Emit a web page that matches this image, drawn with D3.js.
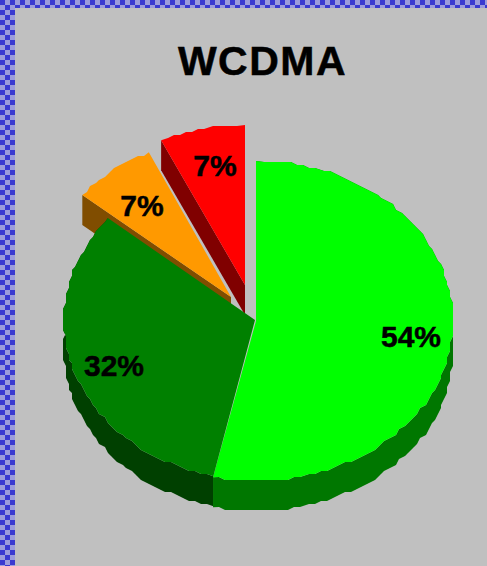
<!DOCTYPE html>
<html><head><meta charset="utf-8">
<script src="https://cdn.jsdelivr.net/npm/d3@7"></script>
<style>html,body{margin:0;padding:0;background:#c0c0c0}svg{display:block}text{font-family:"Liberation Sans",Arial,sans-serif;font-weight:bold;fill:#000;stroke:#000;stroke-width:.5px}</style>
</head><body><svg id="c" width="487" height="566"></svg>
<script>
const title = "WCDMA";
const categories = ["A","B","C","D"];
const values = [53.5, 32.5, 7, 7];
const labels = ["54%","32%","7%","7%"];
const topColors = ["#00ff00","#008000","#ff9900","#ff0000"];
const sideColors = ["#007700","#004000","#804d00","#800000"];

const W=487,H=566,cx=255,cy=320,ry=160,depth=30,grid=3;
const sliceRx=[197,191,193,197];
const explode=[[1,1],[0,0],[-24,-23],[-10,-35]];
const labelPos=[[411,347],[114,376],[142,216],[215,176]];
const svg=d3.select("#c");
const defs=svg.append("defs");
const p=defs.append("pattern").attr("id","dither").attr("width",10).attr("height",10).attr("patternUnits","userSpaceOnUse");
p.append("rect").attr("width",10).attr("height",10).attr("fill","#9c9cdc");
[[0,0],[5,5]].forEach(r=>p.append("rect").attr("x",r[0]).attr("y",r[1]).attr("width",5).attr("height",5).attr("fill","#3a3ad0"));
svg.append("rect").attr("width",W).attr("height",H).attr("fill","#c0c0c0");
svg.append("rect").attr("width",W).attr("height",8).attr("fill","url(#dither)");
svg.append("rect").attr("width",15).attr("height",H).attr("fill","url(#dither)");
svg.append("text").attr("x",262.5).attr("y",75).attr("text-anchor","middle").attr("font-size",41).attr("letter-spacing",1.5).text(title);

const arcs=d3.pie().sort(null).value(d=>d)(values);
const q=v=>Math.round(v/grid)*grid;
function rim(a,i){
  const sx=d3.scaleLinear().domain([-1,1]).range([-sliceRx[i],sliceRx[i]]);
  const sy=d3.scaleLinear().domain([-1,1]).range([-ry,ry]);
  const n=Math.max(2,Math.ceil((a.endAngle-a.startAngle)/(Math.PI/90)));
  const [ox,oy]=explode[i];
  return d3.range(n+1).map(k=>{
    const t=a.startAngle+(a.endAngle-a.startAngle)*k/n;
    const x=cx+ox+sx(Math.sin(t)),y=cy+oy+sy(-Math.cos(t));
    return (k==0||k==n)?[x,y]:[q(x),q(y)];
  });
}
const line=pts=>"M"+pts.map(d=>d.join(",")).join("L")+"Z";
const down=pts=>pts.map(d=>[d[0],d[1]+depth]);
const center=i=>[cx+explode[i][0],cy+explode[i][1]];
const wedge=(a,i)=>[center(i),...rim(a,i)];
const edgeWall=(a,i)=>{const c=center(i),e=rim(a,i)[0];return [c,e,[e[0],e[1]+depth],[c[0],c[1]+depth]];};
const g=svg.append("g");
[3,2].forEach(i=>{
  g.append("path").attr("d",line(edgeWall(arcs[i],i))).attr("fill",sideColors[i]);
  g.append("path").attr("d",line(wedge(arcs[i],i))).attr("fill",topColors[i]);
});
[1,0].forEach(i=>{
  const r=rim(arcs[i],i);
  g.append("path").attr("d",line([...r,...down(r).reverse()])).attr("fill",sideColors[i]);
});
[0,1].forEach(i=>g.append("path").attr("d",line(wedge(arcs[i],i))).attr("fill",topColors[i]));
svg.append("g").selectAll("text").data(labels).join("text")
  .attr("x",(d,i)=>labelPos[i][0]).attr("y",(d,i)=>labelPos[i][1])
  .attr("text-anchor","middle").attr("font-size",30).text(d=>d);
</script></body></html>
